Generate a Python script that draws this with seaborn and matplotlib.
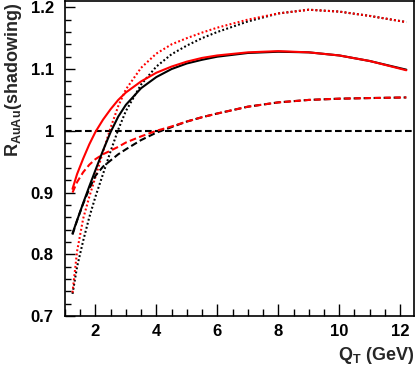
import matplotlib
matplotlib.use("Agg")
import matplotlib.pyplot as plt
import seaborn as sns
from matplotlib.ticker import MultipleLocator

# Q_T grid (GeV)
qt = [1.25, 1.4, 1.6, 1.8, 2.0, 2.25, 2.5, 2.75, 3.0, 3.5, 4.0, 4.5, 5.0, 5.5,
      6.0, 7.0, 8.0, 9.0, 10.0, 11.0, 12.2]

# R_AuAu (shadowing) curves
black_solid = [0.834, 0.855, 0.883, 0.910, 0.936, 0.968, 0.998, 1.023, 1.042, 1.069, 1.087,
               1.100, 1.109, 1.115, 1.120, 1.126, 1.128, 1.127, 1.122, 1.113, 1.099]
red_solid = [0.906, 0.930, 0.955, 0.978, 0.998, 1.018, 1.035, 1.050, 1.062, 1.080, 1.094,
             1.104, 1.112, 1.118, 1.122, 1.127, 1.129, 1.127, 1.122, 1.113, 1.098]
black_dotted = [0.736, 0.780, 0.822, 0.860, 0.893, 0.930, 0.967, 1.002, 1.032, 1.075, 1.104,
                1.124, 1.138, 1.150, 1.160, 1.177, 1.190, 1.196, 1.193, 1.186, 1.176]
red_dotted = [0.738, 0.805, 0.858, 0.893, 0.925, 0.966, 1.005, 1.040, 1.067, 1.102, 1.125,
              1.140, 1.150, 1.159, 1.167, 1.180, 1.190, 1.196, 1.193, 1.186, 1.176]
black_dashed = [0.832, 0.855, 0.882, 0.906, 0.927, 0.942, 0.952, 0.962, 0.970, 0.985, 0.997,
                1.006, 1.015, 1.022, 1.028, 1.039, 1.046, 1.050, 1.052, 1.053, 1.054]
red_dashed = [0.900, 0.917, 0.933, 0.945, 0.954, 0.962, 0.968, 0.974, 0.981, 0.991, 1.000,
              1.007, 1.015, 1.022, 1.028, 1.039, 1.046, 1.050, 1.052, 1.053, 1.054]

sns.set_style("ticks")
plt.rcParams['font.family'] = ['Liberation Sans', 'DejaVu Sans']
plt.rcParams['font.weight'] = 'bold'
plt.rcParams['mathtext.fontset'] = 'custom'
plt.rcParams['mathtext.rm'] = 'Liberation Sans:bold'
plt.rcParams['mathtext.bf'] = 'Liberation Sans:bold'

fig = plt.figure(figsize=(4.16, 3.65), dpi=100)
ax = fig.add_axes([0.156, 0.134, 0.839, 0.863])

lw = 1.5
dotted = (0, (0.9, 1.1))
dashed = (0, (3.2, 1.6))

# reference line at 1
ax.axhline(1.0, color='black', lw=lw, linestyle=dashed, zorder=1)

series = [
    (black_dotted, 'black', dotted),
    (red_dotted, 'red', dotted),
    (black_dashed, 'black', dashed),
    (red_dashed, 'red', dashed),
    (black_solid, 'black', '-'),
    (red_solid, 'red', '-'),
]
for vals, col, ls in series:
    sns.lineplot(x=qt, y=vals, color=col, linestyle=ls, lw=lw, ax=ax)

ax.set_xlim(1.0, 12.45)
ax.set_ylim(0.7, 1.21)
ax.xaxis.set_major_locator(MultipleLocator(2))
ax.xaxis.set_minor_locator(MultipleLocator(0.5))
ax.yaxis.set_minor_locator(MultipleLocator(0.02))
ax.set_yticks([0.7, 0.8, 0.9, 1.0, 1.1, 1.2])
ax.set_yticklabels(['0.7', '0.8', '0.9', '1', '1.1', '1.2'])

ax.tick_params(which='both', direction='in', top=False, right=False,
               labelsize=12, width=1.0, colors='black')
ax.tick_params(axis='y', which='major', length=7, pad=8)
ax.tick_params(axis='y', which='minor', length=4)
ax.tick_params(axis='x', which='major', length=9, pad=6)
ax.tick_params(axis='x', which='minor', length=5)
for lab in ax.get_xticklabels() + ax.get_yticklabels():
    lab.set_fontweight('bold')

for sp in ax.spines.values():
    sp.set_linewidth(1.2)
    sp.set_color('black')

ax.set_xlabel(r'Q$_{\mathregular{T}}$ (GeV)', fontsize=13, fontweight='bold')
ax.xaxis.set_label_coords(1.0, -0.124)
ax.xaxis.label.set_horizontalalignment('right')
ax.xaxis.label.set_verticalalignment('center')
ax.set_ylabel(r'R$_{\mathregular{AuAu}}$(shadowing)', fontsize=13, fontweight='bold')
ax.yaxis.set_label_coords(-0.147, 0.995)
ax.yaxis.label.set_verticalalignment('center')
ax.yaxis.label.set_horizontalalignment('right')

fig.savefig('out.png', dpi=100)
